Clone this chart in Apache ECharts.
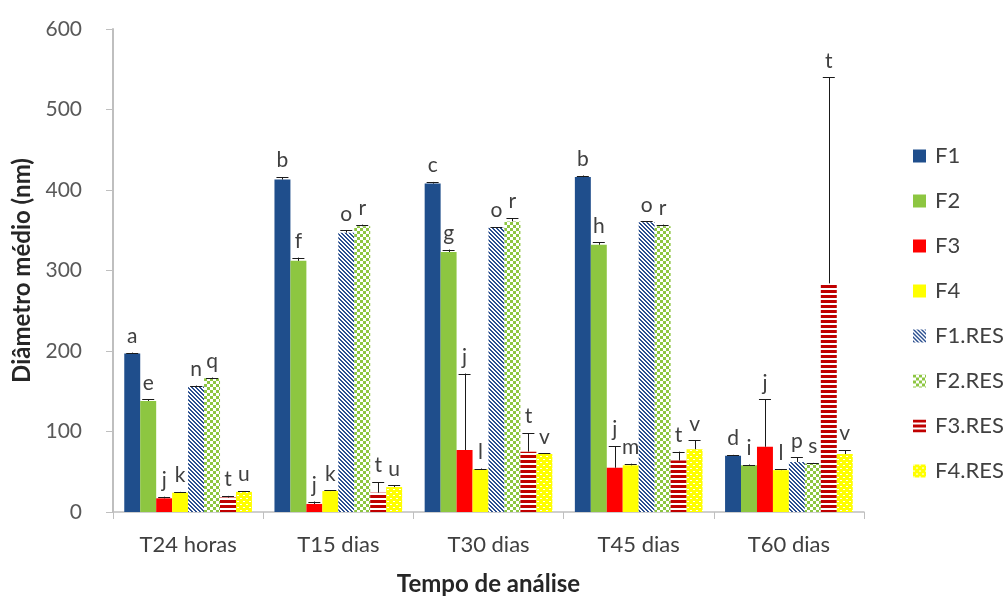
<!DOCTYPE html>
<html><head><meta charset="utf-8">
<script src="https://cdn.jsdelivr.net/npm/echarts@6/dist/echarts.min.js"></script>
<style>html,body{margin:0;padding:0;background:#fff}#c{width:1006px;height:601px}</style>
</head><body><div id="c"></div>
<script>
const categories = ['T24 horas', 'T15 dias', 'T30 dias', 'T45 dias', 'T60 dias'];
const seriesNames = ['F1', 'F2', 'F3', 'F4', 'F1.RES', 'F2.RES', 'F3.RES', 'F4.RES'];
// mean values per series (one per category)
const F1 = [197, 413, 408, 416, 70];
const F2 = [138, 312, 323, 332, 58];
const F3 = [17, 10, 77, 55, 81];
const F4 = [24, 26, 53, 58, 52];
const F1RES = [156, 347, 353, 360, 62];
const F2RES = [166, 355, 361, 355, 60];
const F3RES = [18, 24, 75, 64, 284];
const F4RES = [25, 31, 72, 78, 72];
// upper error (standard deviation)
const F1err = [1, 3, 2, 2, 1];
const F2err = [2, 4, 3, 3, 1];
const F3err = [2, 3, 95, 27, 59];
const F4err = [1, 1, 1, 2, 1];
const F1RESerr = [1, 3, 1, 1, 6];
const F2RESerr = [1, 2, 4, 2, 1];
const F3RESerr = [2, 13, 23, 11, 256];
const F4RESerr = [1, 2, 1, 11, 5];
// significance letters
const F1lab = ['a', 'b', 'c', 'b', 'd'];
const F2lab = ['e', 'f', 'g', 'h', 'i'];
const F3lab = ['j', 'j', 'j', 'j', 'j'];
const F4lab = ['k', 'k', 'l', 'm', 'l'];
const F1RESlab = ['n', 'o', 'o', 'o', 'p'];
const F2RESlab = ['q', 'r', 'r', 'r', 's'];
const F3RESlab = ['t', 't', 't', 't', 't'];
const F4RESlab = ['u', 'u', 'v', 'v', 'v'];
const yTicks = [0, 100, 200, 300, 400, 500, 600];

const values = [F1, F2, F3, F4, F1RES, F2RES, F3RES, F4RES];
const errs = [F1err, F2err, F3err, F4err, F1RESerr, F2RESerr, F3RESerr, F4RESerr];
const labs = [F1lab, F2lab, F3lab, F4lab, F1RESlab, F2RESlab, F3RESlab, F4RESlab];

function pattern(w, h, bg, fg, test) {
  const c = document.createElement('canvas');
  c.width = w; c.height = h;
  const ctx = c.getContext('2d');
  ctx.fillStyle = bg; ctx.fillRect(0, 0, w, h);
  ctx.fillStyle = fg;
  for (let y = 0; y < h; y++) for (let x = 0; x < w; x++) if (test(x, y)) ctx.fillRect(x, y, 1, 1);
  return { image: c, repeat: 'repeat' };
}
const BLUE = '#1F4E8C', GREEN = '#8DC641', RED = '#FF0000', YEL = '#FFFF00', DRED = '#C00000';
const colors = [
  BLUE, GREEN, RED, YEL,
  pattern(4, 4, '#ffffff', '#2B4F8F', (x, y) => ((x - y + 8) % 4) < 2),
  pattern(6, 6, '#ffffff', GREEN, (x, y) => ((Math.floor(x / 3) + Math.floor(y / 3)) % 2) === 0),
  pattern(5, 5, '#ffffff', DRED, (x, y) => (y % 5) < 3),
  pattern(6, 6, '#ffffff', YEL, (x, y) => !((x % 6) < 2 && (y % 6) === 0) && !(((x + 3) % 6) < 2 && (y % 6) === 3))
];

const GAP = 0.15;
const barSeries = seriesNames.map((n, i) => ({
  name: n, type: 'bar', data: values[i], barGap: '0%', barCategoryGap: (GAP * 100) + '%',
  itemStyle: { color: colors[i] }, z: 2
}));

const errData = [];
for (let s = 0; s < 8; s++) for (let c = 0; c < categories.length; c++) errData.push([c, values[s][c], errs[s][c], s]);

const errSeries = {
  type: 'custom', name: 'errbars', z: 5, silent: true,
  data: errData,
  encode: { x: 0, y: 1 },
  renderItem: function (params, api) {
    const c = api.value(0), v = api.value(1), e = api.value(2), s = api.value(3);
    const catW = api.size([1, 0])[0];
    const bw = catW * (1 - GAP) / 8;
    const center = api.coord([c, 0])[0];
    const x = center - catW * (1 - GAP) / 2 + (s + 0.5) * bw;
    const yBar = api.coord([c, v])[1];
    const yTop = api.coord([c, v + e])[1];
    const st = { stroke: '#1a1a1a', lineWidth: 1 };
    return {
      type: 'group', children: [
        { type: 'line', shape: { x1: Math.round(x) + 0.5, y1: yBar, x2: Math.round(x) + 0.5, y2: yTop }, style: st },
        { type: 'line', shape: { x1: x - 6, y1: Math.round(yTop) + 0.5, x2: x + 6, y2: Math.round(yTop) + 0.5 }, style: st },
        { type: 'text', x: x, y: yTop - 6, style: { text: labs[s][c], fill: '#404040', font: '21px Lato', textAlign: 'center', textVerticalAlign: 'bottom' } }
      ]
    };
  }
};

const chart = echarts.init(document.getElementById('c'), null, { renderer: 'canvas' });
chart.setOption({
  animation: false,
  backgroundColor: '#ffffff',
  textStyle: { fontFamily: 'Lato' },
  grid: { left: 113, right: 142, top: 29, bottom: 86 },
  legend: {
    data: seriesNames, orient: 'vertical', left: 908, top: 140,
    itemWidth: 13, itemHeight: 13, itemGap: 23, icon: 'rect',
    textStyle: { color: '#404040', fontSize: 22, fontFamily: 'Lato', lineHeight: 22, padding: [0, 0, 0, 4] }
  },
  xAxis: {
    type: 'category', data: categories,
    axisLine: { lineStyle: { color: '#BFBFBF', width: 1.5 } },
    axisTick: { show: true, length: 7, lineStyle: { color: '#BFBFBF' } },
    axisLabel: { color: '#404040', fontSize: 22, margin: 22, fontFamily: 'Lato' },
    name: 'Tempo de análise', nameLocation: 'middle', nameGap: 60,
    nameTextStyle: { color: '#262626', fontSize: 24, fontWeight: 'bold', fontFamily: 'Lato' }
  },
  yAxis: {
    type: 'value', min: yTicks[0], max: yTicks[yTicks.length - 1], interval: 100,
    splitLine: { show: false },
    axisLine: { show: true, lineStyle: { color: '#BFBFBF', width: 2 } },
    axisTick: { show: true, length: 7, lineStyle: { color: '#BFBFBF' } },
    axisLabel: { color: '#595959', fontSize: 21, margin: 31, fontFamily: 'Lato' },
    name: 'Diâmetro médio (nm)', nameLocation: 'middle', nameGap: 76, nameRotate: 90,
    nameTextStyle: { color: '#262626', fontSize: 24, fontWeight: 'bold', fontFamily: 'Lato' }
  },
  series: barSeries.concat([errSeries])
});
</script></body></html>
